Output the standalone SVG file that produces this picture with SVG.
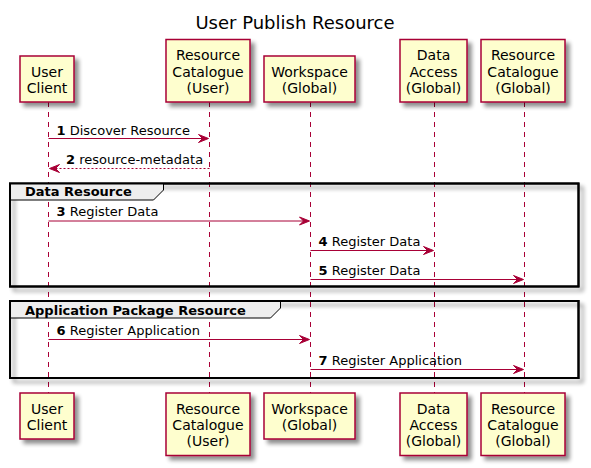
<svg xmlns="http://www.w3.org/2000/svg" width="591" height="468" viewBox="0 0 591 468">
<defs>
<filter id="sh" x="-20%" y="-20%" width="150%" height="150%">
<feGaussianBlur in="SourceAlpha" stdDeviation="2" result="b"/>
<feOffset in="b" dx="4" dy="4" result="o"/>
<feComponentTransfer in="o" result="o2"><feFuncA type="linear" slope="0.45"/></feComponentTransfer>
<feMerge><feMergeNode in="o2"/><feMergeNode in="SourceGraphic"/></feMerge>
</filter>
</defs>
<style>
.box{fill:#FEFECE;stroke:#A80036;stroke-width:1.5;filter:url(#sh)}
.pt{font-family:"DejaVu Sans",sans-serif;font-size:14px;fill:#000;text-anchor:middle}
.life{stroke:#A80036;stroke-width:1;stroke-dasharray:5,5;fill:none}
.msg{stroke:#A80036;stroke-width:1;fill:none}
.ret{stroke:#A80036;stroke-width:1;stroke-dasharray:2,2;fill:none}
.ah{fill:#A80036;stroke:#A80036;stroke-width:1}
.lbl{font-family:"DejaVu Sans",sans-serif;font-size:13px;fill:#000}
.num{font-weight:bold}
.frame{fill:none;stroke:#000;stroke-width:2;filter:url(#sh)}
.tab{fill:#EEEEEE;stroke:#000;stroke-width:1}
.gt{font-family:"DejaVu Sans",sans-serif;font-size:13px;font-weight:bold;fill:#000}
.title{font-family:"DejaVu Sans",sans-serif;font-size:18px;fill:#000;text-anchor:middle}
</style>
<rect width="591" height="468" fill="#FFFFFF"/>
<text class="title" x="295" y="29">User Publish Resource</text>

<g id="lifelines">
<line class="life" x1="48.5" y1="102" x2="48.5" y2="393"/>
<line class="life" x1="209.5" y1="102" x2="209.5" y2="393"/>
<line class="life" x1="310.5" y1="102" x2="310.5" y2="393"/>
<line class="life" x1="434.5" y1="102" x2="434.5" y2="393"/>
<line class="life" x1="524.5" y1="102" x2="524.5" y2="393"/>
</g>

<g id="group-data-resource">
<rect class="frame" x="10" y="183.5" width="568.5" height="103"/>
<path class="tab" d="M10,183.5 L163.5,183.5 L163.5,190 L153.5,200 L10,200 Z"/>
<rect x="10" y="183.5" width="568.5" height="103" fill="none" stroke="#000" stroke-width="2"/>
<text class="gt" x="25" y="195.5">Data Resource</text>
</g>

<g id="group-application-package-resource">
<rect class="frame" x="10" y="301" width="568.5" height="77"/>
<path class="tab" d="M10,301 L280.5,301 L280.5,308 L270.5,318 L10,318 Z"/>
<rect x="10" y="301" width="568.5" height="77" fill="none" stroke="#000" stroke-width="2"/>
<text class="gt" x="25" y="315">Application Package Resource</text>
</g>

<g id="node-user-client-top">
<rect class="box" x="20" y="56" width="54" height="46"/>
<text class="pt" x="47" y="76.5">User</text>
<text class="pt" x="47" y="93">Client</text>
</g>
<g id="node-rc-user-top">
<rect class="box" x="166" y="39.5" width="84" height="62.5"/>
<text class="pt" x="208" y="60.3">Resource</text>
<text class="pt" x="208" y="76.6">Catalogue</text>
<text class="pt" x="208" y="93">(User)</text>
</g>
<g id="node-workspace-top">
<rect class="box" x="264" y="56" width="91" height="46"/>
<text class="pt" x="309.5" y="76.5">Workspace</text>
<text class="pt" x="309.5" y="93">(Global)</text>
</g>
<g id="node-data-access-top">
<rect class="box" x="400" y="39.5" width="67" height="62.5"/>
<text class="pt" x="433.5" y="60.3">Data</text>
<text class="pt" x="433.5" y="76.6">Access</text>
<text class="pt" x="433.5" y="93">(Global)</text>
</g>
<g id="node-rc-global-top">
<rect class="box" x="481" y="39.5" width="84" height="62.5"/>
<text class="pt" x="523" y="60.3">Resource</text>
<text class="pt" x="523" y="76.6">Catalogue</text>
<text class="pt" x="523" y="93">(Global)</text>
</g>

<g id="node-user-client-bottom">
<rect class="box" x="20" y="393" width="54" height="46"/>
<text class="pt" x="47" y="413.5">User</text>
<text class="pt" x="47" y="430">Client</text>
</g>
<g id="node-rc-user-bottom">
<rect class="box" x="166" y="393" width="84" height="62.5"/>
<text class="pt" x="208" y="413.8">Resource</text>
<text class="pt" x="208" y="430.1">Catalogue</text>
<text class="pt" x="208" y="446.4">(User)</text>
</g>
<g id="node-workspace-bottom">
<rect class="box" x="264" y="393" width="91" height="46"/>
<text class="pt" x="309.5" y="413.5">Workspace</text>
<text class="pt" x="309.5" y="430">(Global)</text>
</g>
<g id="node-data-access-bottom">
<rect class="box" x="400" y="393" width="67" height="62.5"/>
<text class="pt" x="433.5" y="413.8">Data</text>
<text class="pt" x="433.5" y="430.1">Access</text>
<text class="pt" x="433.5" y="446.4">(Global)</text>
</g>
<g id="node-rc-global-bottom">
<rect class="box" x="481" y="393" width="84" height="62.5"/>
<text class="pt" x="523" y="413.8">Resource</text>
<text class="pt" x="523" y="430.1">Catalogue</text>
<text class="pt" x="523" y="446.4">(Global)</text>
</g>

<g id="connectors">
<line class="msg" x1="48.5" y1="138.5" x2="207.5" y2="138.5"/>
<polygon class="ah" points="198.5,134.5 208.5,138.5 198.5,142.5 202.5,138.5"/>
<text class="lbl" x="56.5" y="134.5"><tspan class="num">1</tspan> Discover Resource</text>

<line class="ret" x1="209.5" y1="168.5" x2="50.5" y2="168.5"/>
<polygon class="ah" points="59.5,164.5 49.5,168.5 59.5,172.5 55.5,168.5"/>
<text class="lbl" x="66" y="163.5"><tspan class="num">2</tspan> resource-metadata</text>

<line class="msg" x1="48.5" y1="221" x2="308.5" y2="221"/>
<polygon class="ah" points="299.5,217 309.5,221 299.5,225 303.5,221"/>
<text class="lbl" x="56.5" y="216"><tspan class="num">3</tspan> Register Data</text>

<line class="msg" x1="310.5" y1="250.5" x2="432.5" y2="250.5"/>
<polygon class="ah" points="423.5,246.5 433.5,250.5 423.5,254.5 427.5,250.5"/>
<text class="lbl" x="318.5" y="245.5"><tspan class="num">4</tspan> Register Data</text>

<line class="msg" x1="310.5" y1="279.5" x2="522.5" y2="279.5"/>
<polygon class="ah" points="513.5,275.5 523.5,279.5 513.5,283.5 517.5,279.5"/>
<text class="lbl" x="318.5" y="274.5"><tspan class="num">5</tspan> Register Data</text>

<line class="msg" x1="48.5" y1="339.5" x2="308.5" y2="339.5"/>
<polygon class="ah" points="299.5,335.5 309.5,339.5 299.5,343.5 303.5,339.5"/>
<text class="lbl" x="56.5" y="334.5"><tspan class="num">6</tspan> Register Application</text>

<line class="msg" x1="310.5" y1="369.5" x2="522.5" y2="369.5"/>
<polygon class="ah" points="513.5,365.5 523.5,369.5 513.5,373.5 517.5,369.5"/>
<text class="lbl" x="318.5" y="364.5"><tspan class="num">7</tspan> Register Application</text>
</g>
</svg>
